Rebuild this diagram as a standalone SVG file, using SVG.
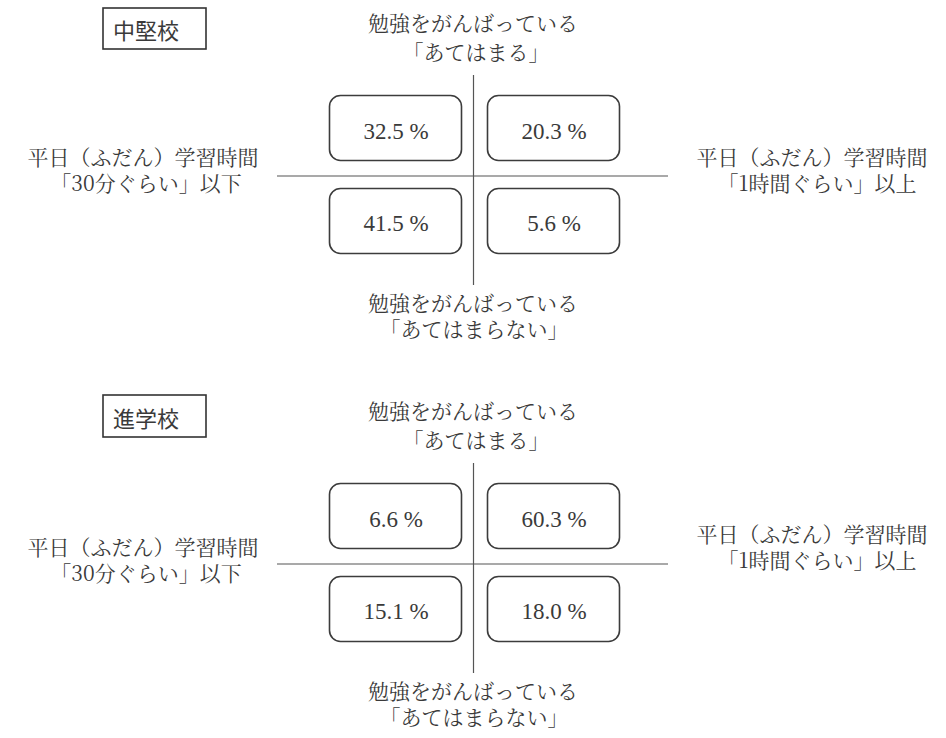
<svg xmlns="http://www.w3.org/2000/svg" width="946" height="738" viewBox="0 0 946 738">
<style>
.jp{font-family:"Noto Serif CJK JP","Liberation Serif","Noto Sans CJK JP",serif;font-size:21px;fill:#3a3a3a;text-anchor:middle}
.ttl{font-family:"Noto Sans CJK JP",sans-serif;font-size:22px;font-weight:400;fill:#3a3a3a}
.val{font-family:"Liberation Serif",serif;font-size:23px;fill:#3a3a3a;text-anchor:middle}
.box{fill:none;stroke:#3c3c3c;stroke-width:1.6}
.tbox{fill:none;stroke:#333;stroke-width:1.6}
.ax{stroke:#555;stroke-width:1.2;fill:none}
</style>
<rect width="946" height="738" fill="#ffffff"/>

<!-- Section 1: 中堅校 -->
<g id="title1"><rect class="tbox" x="103" y="8" width="103" height="41"/><text class="ttl" x="113" y="39">中堅校</text></g>
<g id="axes1">
<line class="ax" x1="473.5" y1="75" x2="473.5" y2="285"/>
<line class="ax" x1="277" y1="176" x2="668" y2="176"/>
</g>
<g id="top1"><text class="jp" x="473" y="31">勉強をがんばっている</text><text class="jp" x="476" y="60">「あてはまる」</text></g>
<g id="bottom1"><text class="jp" x="473" y="311">勉強をがんばっている</text><text class="jp" x="474" y="337">「あてはまらない」</text></g>
<g id="left1"><text class="jp" x="143" y="165">平日（ふだん）学習時間</text><text class="jp" x="146" y="191">「30分ぐらい」以下</text></g>
<g id="right1"><text class="jp" x="812" y="165">平日（ふだん）学習時間</text><text class="jp" x="817" y="191">「1時間ぐらい」以上</text></g>
<g id="q1a"><rect class="box" x="329.5" y="95.5" width="132" height="65" rx="11"/><text class="val" x="396" y="139">32.5 %</text></g>
<g id="q1b"><rect class="box" x="487.5" y="95.5" width="132" height="65" rx="11"/><text class="val" x="554" y="139">20.3 %</text></g>
<g id="q1c"><rect class="box" x="329.5" y="188.5" width="132" height="65" rx="11"/><text class="val" x="396" y="231">41.5 %</text></g>
<g id="q1d"><rect class="box" x="487.5" y="188.5" width="132" height="65" rx="11"/><text class="val" x="554" y="231">5.6 %</text></g>

<!-- Section 2: 進学校 -->
<g id="title2"><rect class="tbox" x="103" y="395" width="103" height="42"/><text class="ttl" x="113" y="427">進学校</text></g>
<g id="axes2">
<line class="ax" x1="473.5" y1="463" x2="473.5" y2="673"/>
<line class="ax" x1="277" y1="564" x2="668" y2="564"/>
</g>
<g id="top2"><text class="jp" x="473" y="419">勉強をがんばっている</text><text class="jp" x="476" y="448">「あてはまる」</text></g>
<g id="bottom2"><text class="jp" x="473" y="699">勉強をがんばっている</text><text class="jp" x="474" y="725">「あてはまらない」</text></g>
<g id="left2"><text class="jp" x="143" y="555">平日（ふだん）学習時間</text><text class="jp" x="146" y="581">「30分ぐらい」以下</text></g>
<g id="right2"><text class="jp" x="812" y="542">平日（ふだん）学習時間</text><text class="jp" x="817" y="568">「1時間ぐらい」以上</text></g>
<g id="q2a"><rect class="box" x="329.5" y="483.5" width="132" height="65" rx="11"/><text class="val" x="396" y="527">6.6 %</text></g>
<g id="q2b"><rect class="box" x="487.5" y="483.5" width="132" height="65" rx="11"/><text class="val" x="554" y="527">60.3 %</text></g>
<g id="q2c"><rect class="box" x="329.5" y="576.5" width="132" height="65" rx="11"/><text class="val" x="396" y="619">15.1 %</text></g>
<g id="q2d"><rect class="box" x="487.5" y="576.5" width="132" height="65" rx="11"/><text class="val" x="554" y="619">18.0 %</text></g>
</svg>
